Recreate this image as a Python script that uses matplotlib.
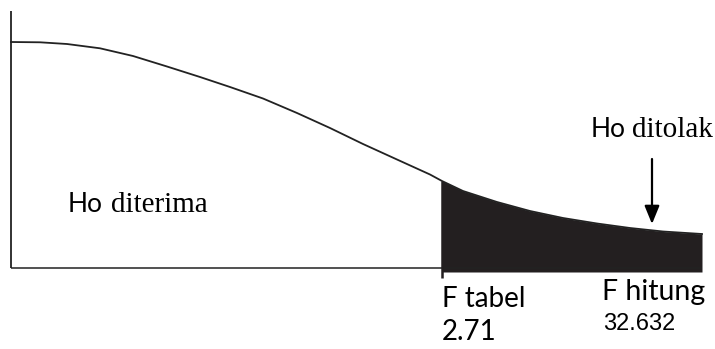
import matplotlib
matplotlib.use("Agg")
import matplotlib.pyplot as plt

# Curve (distribution shape), x along the horizontal axis, y = height above axis
curve_x = [0, 29, 56, 89, 122, 156, 189, 219, 252, 286, 319, 352, 386, 419,
           431, 452, 486, 519, 552, 586, 619, 652, 691]
curve_y = [226, 225.7, 224, 219.7, 212, 201.5, 191, 181, 169.5, 155, 140,
           124, 108.5, 93.5, 87, 77, 66, 57, 50, 44.5, 40, 36.5, 34]

f_tabel_x = 431
f_tabel_label = "F tabel"
f_tabel_value = "2.71"
f_hitung_label = "F hitung"
f_hitung_value = "32.632"
accept_word = ("Ho", "diterima")
reject_word = ("Ho", "ditolak")

fig = plt.figure(figsize=(7.15, 3.49), dpi=100)
ax = fig.add_axes([0, 0, 1, 1])
ax.set_xlim(-11, 704)
ax.set_ylim(-81, 268)
ax.axis("off")

# axes lines
ax.plot([0, 0], [0, 257], color="#222222", lw=1.3, solid_capstyle="butt")
ax.plot([0, 691], [0, 0], color="#222222", lw=1.1, solid_capstyle="butt")

# curve
ax.plot(curve_x, curve_y, color="#222222", lw=1.3)

# shaded rejection region
xs = [x for x in curve_x if x >= f_tabel_x]
ys = [y for x, y in zip(curve_x, curve_y) if x >= f_tabel_x]
ax.fill_between(xs, -4, ys, color="#231f20", lw=0)

# F tabel line
ax.plot([f_tabel_x, f_tabel_x], [-10, 87], color="#231f20", lw=1.8,
        solid_capstyle="butt")

# arrow
ax.annotate("", xy=(641, 44), xytext=(641, 109),
            arrowprops=dict(arrowstyle="-|>,head_length=1.1,head_width=0.45",
                            color="black", lw=1.6, shrinkA=0, shrinkB=0))

serif = ["Liberation Serif", "DejaVu Serif"]
sans = ["Lato", "DejaVu Sans"]

ax.text(580, 131.3, reject_word[0], family=sans, fontsize=19, va="baseline")
ax.text(621, 131.3, reject_word[1], family=serif, fontsize=21, va="baseline")
ax.text(57, 56.3, accept_word[0], family=sans, fontsize=19, va="baseline")
ax.text(100, 56.3, accept_word[1], family=serif, fontsize=21, va="baseline")

ax.text(431, -39, f_tabel_label, family=sans, fontsize=20, va="baseline")
ax.text(431, -72, f_tabel_value, family=sans, fontsize=20, va="baseline")
ax.text(591, -32, f_hitung_label, family=sans, fontsize=20.5, va="baseline")
ax.text(592, -62, f_hitung_value, family=["Liberation Sans"], fontsize=17, va="baseline")

fig.savefig("out.png", dpi=100)
